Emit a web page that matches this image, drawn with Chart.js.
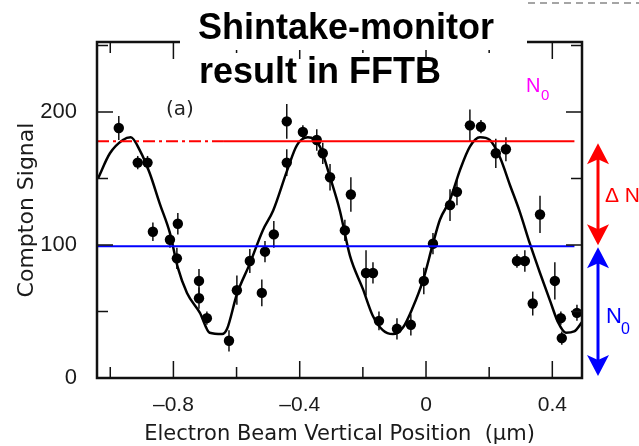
<!DOCTYPE html>
<html>
<head>
<meta charset="utf-8">
<script src="https://cdn.jsdelivr.net/npm/chart.js@4.4.1/dist/chart.umd.min.js"></script>
<style>
  html, body { margin: 0; padding: 0; background: #fff; }
  #wrap { width: 639px; height: 446px; }
</style>
</head>
<body>
<div id="wrap"><canvas id="shintakeChart" width="639" height="446"></canvas></div>
<script>
const beamPos = [-0.973, -0.913, -0.882, -0.865, -0.786, -0.811, -0.789, -0.719, -0.719, -0.694,
                 -0.624, -0.599, -0.558, -0.520, -0.510, -0.482, -0.441, -0.441, -0.390, -0.346,
                 -0.327, -0.304, -0.238, -0.257, -0.190, -0.168, -0.149, -0.092, -0.048, -0.007,
                 0.022, 0.076, 0.098, 0.139, 0.174, 0.221, 0.253, 0.361, 0.288, 0.313,
                 0.338, 0.408, 0.427, 0.430, 0.478];
const comptonSignal = [188, 162, 162, 110, 116, 104, 90, 73, 60, 45,
                       28, 66, 88, 64, 95, 108, 162, 193, 185, 179,
                       169, 151, 138, 111, 79, 79, 43, 37, 40, 73,
                       101, 130, 140, 190, 189, 169, 172, 123, 88, 88,
                       56, 73, 45, 30, 49];
const errHalf = [9, 5, 5, 7, 8, 6, 8, 9, 8, 5,
                 8, 11, 9, 10, 8, 10, 10, 13, 5, 8,
                 8, 10, 13, 8, 17, 8, 7, 8, 8, 10,
                 8, 12, 10, 12, 5, 11, 9, 14, 5, 8,
                 9, 14, 5, 5, 6];

// fitted curve, sampled along the drawn line
const fitX = [-1.039, -1.001, -0.960, -0.935, -0.906, -0.875, -0.843, -0.811, -0.786, -0.757,
              -0.716, -0.685, -0.646, -0.630, -0.599, -0.558, -0.517, -0.484, -0.440, -0.409,
              -0.374, -0.336, -0.304, -0.273, -0.241, -0.200, -0.169, -0.137, -0.105, -0.073,
              -0.042, -0.010, 0.022, 0.044, 0.076, 0.107, 0.139, 0.171, 0.202, 0.234,
              0.266, 0.297, 0.329, 0.361, 0.393, 0.418, 0.443, 0.469, 0.494];
const fitY = [150, 169, 179, 181, 171, 154, 131, 109, 83, 64,
              49, 34, 33, 37, 63, 86, 111, 126, 156, 175,
              181, 174, 151, 126, 92, 67, 47, 36, 33, 38,
              53, 73, 101, 119, 134, 156, 174, 181, 179, 166,
              145, 125, 101, 79, 58, 42, 34, 35, 42];

const levelMax = 178;   // red line (N0 + dN)
const levelN0 = 99;     // blue line
const redDashEnd = -0.64;

const xRange = [-1.042, 0.494];
const yRange = [0, 252.7];
const xTickLabels = [-0.8, -0.4, 0, 0.4];
const xMinorTicks = [-1.0, -0.6, -0.2, 0.2];
const yTickLabels = [0, 100, 200];
const yMinorTicks = [50, 150, 250];

const axisFont = 'Liberation Sans, Arial, sans-serif';

// frame, inward ticks, error bars and slide annotations
const decorPlugin = {
    id: 'decor',
    beforeDatasetsDraw(chart) {
        const {ctx, scales: {x, y}} = chart;
        ctx.save();
        ctx.strokeStyle = '#111';
        ctx.lineWidth = 1.5;
        beamPos.forEach(function(v, i) {
            const px = x.getPixelForValue(v);
            ctx.beginPath();
            ctx.moveTo(px, y.getPixelForValue(comptonSignal[i] - errHalf[i]));
            ctx.lineTo(px, y.getPixelForValue(comptonSignal[i] + errHalf[i]));
            ctx.stroke();
        });
        ctx.restore();
    },
    afterDraw(chart) {
        const {ctx, chartArea: a, scales: {x, y}} = chart;
        ctx.save();
        // frame
        ctx.strokeStyle = '#111';
        ctx.lineWidth = 2.5;
        ctx.strokeRect(a.left, a.top, a.right - a.left, a.bottom - a.top);
        // ticks pointing inward
        ctx.lineWidth = 1.5;
        function vTick(v, len) {
            const px = x.getPixelForValue(v);
            ctx.beginPath();
            ctx.moveTo(px, a.bottom); ctx.lineTo(px, a.bottom - len);
            ctx.moveTo(px, a.top); ctx.lineTo(px, a.top + len);
            ctx.stroke();
        }
        function hTick(v, len) {
            const py = y.getPixelForValue(v);
            ctx.beginPath();
            ctx.moveTo(a.left, py); ctx.lineTo(a.left + len, py);
            ctx.moveTo(a.right, py); ctx.lineTo(a.right - len, py);
            ctx.stroke();
        }
        xTickLabels.forEach(v => vTick(v, 17));
        xMinorTicks.forEach(v => vTick(v, 11));
        yTickLabels.forEach(v => hTick(v, 16));
        yMinorTicks.forEach(v => hTick(v, 11));

        // slide title sits over the frame top
        ctx.fillStyle = '#fff';
        ctx.fillRect(180, 0, 347, 50);
        ctx.fillStyle = '#000';
        ctx.font = 'bold 36px Liberation Sans, Arial, sans-serif';
        ctx.textAlign = 'left';
        ctx.textBaseline = 'alphabetic';
        ctx.fillText('Shintake-monitor', 198, 39);
        ctx.fillText('result in FFTB', 199, 83);

        // dashed rule at top right of the slide
        ctx.strokeStyle = '#888';
        ctx.lineWidth = 1.5;
        ctx.setLineDash([7, 5]);
        ctx.beginPath();
        ctx.moveTo(528, 3); ctx.lineTo(639, 3);
        ctx.stroke();
        ctx.setLineDash([]);

        // panel label
        ctx.fillStyle = '#222';
        ctx.font = '20px DejaVu Sans, sans-serif';
        ctx.fillText('(a)', 166, 115);

        // magenta N0
        ctx.fillStyle = '#ff00ff';
        ctx.font = '20px Liberation Sans, Arial, sans-serif';
        ctx.fillText('N', 526, 92);
        ctx.font = '15px Liberation Sans, Arial, sans-serif';
        ctx.fillText('0', 541, 100);

        // double arrows to the right of the frame
        const ax = 598;
        function arrow(y1, y2, color) {
            ctx.strokeStyle = color;
            ctx.fillStyle = color;
            ctx.lineWidth = 3;
            ctx.beginPath();
            ctx.moveTo(ax, y1 + 14); ctx.lineTo(ax, y2 - 14);
            ctx.stroke();
            ctx.beginPath();
            ctx.moveTo(ax, y1); ctx.lineTo(ax - 11, y1 + 21); ctx.lineTo(ax, y1 + 16); ctx.lineTo(ax + 11, y1 + 21);
            ctx.closePath(); ctx.fill();
            ctx.beginPath();
            ctx.moveTo(ax, y2); ctx.lineTo(ax - 11, y2 - 21); ctx.lineTo(ax, y2 - 16); ctx.lineTo(ax + 11, y2 - 21);
            ctx.closePath(); ctx.fill();
        }
        const yMax = y.getPixelForValue(levelMax);
        const yN0 = y.getPixelForValue(levelN0);
        const yZero = y.getPixelForValue(0);
        arrow(yMax + 2, yN0 - 1, '#ff0000');
        arrow(yN0 + 1, yZero - 2, '#0000ff');

        ctx.fillStyle = '#ff0000';
        ctx.font = '21px Liberation Sans, Arial, sans-serif';
        ctx.fillText('\u0394 N', 605, (yMax + yN0) / 2 + 8);
        ctx.fillStyle = '#0000ff';
        ctx.font = '22px Liberation Sans, Arial, sans-serif';
        ctx.fillText('N', 606, 323);
        ctx.font = '16px Liberation Sans, Arial, sans-serif';
        ctx.fillText('0', 621, 334);
        ctx.restore();
    }
};

const ctx = document.getElementById('shintakeChart').getContext('2d');

const shintakeChart = new Chart(ctx, {
    type: 'scatter',
    data: {
        datasets: [
            {
                // red level, dash-dot part
                type: 'line',
                data: [{x: xRange[0], y: levelMax}, {x: redDashEnd, y: levelMax}],
                borderColor: '#ff0000',
                borderWidth: 2,
                borderDash: [12, 4, 3, 4],
                pointRadius: 0
            },
            {
                type: 'line',
                data: [{x: redDashEnd, y: levelMax}, {x: 0.47, y: levelMax}],
                borderColor: '#ff0000',
                borderWidth: 2,
                pointRadius: 0
            },
            {
                type: 'line',
                data: [{x: xRange[0], y: levelN0}, {x: 0.47, y: levelN0}],
                borderColor: '#0000ff',
                borderWidth: 2,
                pointRadius: 0
            },
            {
                label: 'Compton signal',
                data: beamPos.map((v, i) => ({x: v, y: comptonSignal[i]})),
                backgroundColor: '#000',
                borderWidth: 0,
                pointRadius: 5.2
            },
            {
                label: 'fit',
                type: 'line',
                data: fitX.map((v, i) => ({x: v, y: fitY[i]})),
                borderColor: '#000',
                borderWidth: 2.5,
                pointRadius: 0,
                cubicInterpolationMode: 'monotone'
            }
        ]
    },
    options: {
        responsive: false,
        animation: false,
        devicePixelRatio: 1,
        layout: { padding: { top: 42, right: 57, left: 0, bottom: 0 } },
        plugins: {
            legend: { display: false },
            tooltip: { enabled: false }
        },
        scales: {
            x: {
                type: 'linear',
                min: xRange[0],
                max: xRange[1],
                grid: { display: false },
                border: { display: false },
                afterBuildTicks: function(scale) {
                    scale.ticks = xTickLabels.map(v => ({value: v}));
                },
                afterFit: function(scale) { scale.height = 68; },
                ticks: {
                    autoSkip: false,
                    maxRotation: 0,
                    minRotation: 0,
                    padding: 7,
                    color: '#1a1a1a',
                    font: { family: axisFont, size: 21 },
                    callback: function(value) {
                        return value < 0 ? '\u2013' + Math.abs(value) : String(value);
                    }
                },
                title: {
                    display: true,
                    text: 'Electron Beam Vertical Position  (\u03bcm)',
                    color: '#1a1a1a',
                    font: { family: 'DejaVu Sans, sans-serif', size: 21 },
                    padding: { top: 0, bottom: -1 }
                }
            },
            y: {
                type: 'linear',
                min: yRange[0],
                max: yRange[1],
                grid: { display: false },
                border: { display: false },
                afterBuildTicks: function(scale) {
                    scale.ticks = yTickLabels.map(v => ({value: v}));
                },
                afterFit: function(scale) { scale.width = 97; },
                ticks: {
                    padding: 12,
                    color: '#1a1a1a',
                    font: { family: axisFont, size: 22 }
                },
                title: {
                    display: true,
                    text: 'Compton Signal',
                    color: '#1a1a1a',
                    font: { family: 'DejaVu Sans, sans-serif', size: 22 },
                    padding: { top: 14, bottom: 0 }
                }
            }
        }
    },
    plugins: [decorPlugin]
});
</script>
</body>
</html>
